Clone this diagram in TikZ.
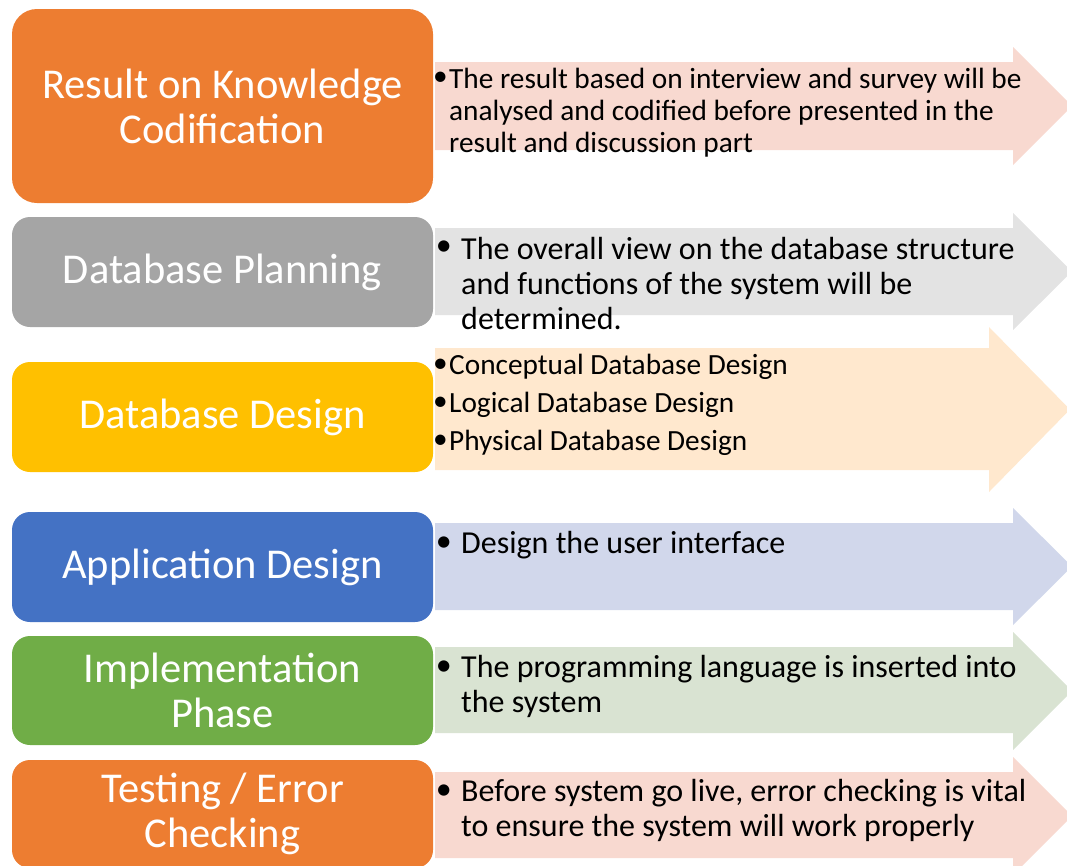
\documentclass[tikz,border=0pt]{standalone}
\usepackage{fontspec}
\setmainfont{Carlito}
\usetikzlibrary{positioning}
\definecolor{accOrange}{HTML}{ED7D31}
\definecolor{accGray}{HTML}{A5A5A5}
\definecolor{accGold}{HTML}{FFC000}
\definecolor{accBlue}{HTML}{4472C4}
\definecolor{accGreen}{HTML}{70AD47}
\definecolor{tintOrange}{HTML}{F8D9D0}
\definecolor{tintGray}{HTML}{E3E3E3}
\definecolor{tintGold}{HTML}{FFE8CE}
\definecolor{tintBlue}{HTML}{D1D7EB}
\definecolor{tintGreen}{HTML}{D9E3D2}
\begin{document}
\begin{tikzpicture}[x=1pt,y=-1pt,
    phase/.style={rectangle,rounded corners=18pt,minimum width=421pt,inner sep=0pt,
      text=white,align=center,font=\fontsize{42.5}{45}\selectfont},
    dot/.style={anchor=east,inner sep=0pt,font=\fontsize{32}{35}\selectfont},
    note/.style={anchor=west,inner sep=0pt,align=left,font=\fontsize{32}{35}\selectfont},
    small/.style={font=\fontsize{29.3}{32}\selectfont}]
  \useasboundingbox (0,0) rectangle (1067,865);
  \clip (0,0) rectangle (1067,865);
  % arrows behind the phases
  \fill[tintOrange] (435,62)--(1013,62)--(1013,47)--(1072,106)--(1013,165)--(1013,150)--(435,150)--cycle;
  \fill[tintGray] (435,228)--(1013,228)--(1013,213)--(1072,271.5)--(1013,330)--(1013,315)--(435,315)--cycle;
  \fill[tintGold] (435,348)--(989,348)--(989,327)--(1070,409.5)--(989,492)--(989,470)--(435,470)--cycle;
  \fill[tintBlue] (435,523)--(1013,523)--(1013,508)--(1072,566.5)--(1013,625)--(1013,610)--(435,610)--cycle;
  \fill[tintGreen] (435,647)--(1013,647)--(1013,632)--(1072,691)--(1013,750)--(1013,733)--(435,733)--cycle;
  \fill[tintOrange] (435,772)--(1013,772)--(1013,757)--(1072,816)--(1013,875)--(1013,858)--(435,858)--cycle;
  % phases
  \node[phase,fill=accOrange,rounded corners=25pt,minimum height=194pt] (codif) at (222.5,106) {Result on Knowledge\\Codification};
  \node[phase,fill=accGray,minimum height=110pt] (plan) at (222.5,272) {Database Planning};
  \node[phase,fill=accGold,minimum height=110pt] (dbdes) at (222.5,417) {Database Design};
  \node[phase,fill=accBlue,minimum height=110pt] (appdes) at (222.5,567) {Application Design};
  \node[phase,fill=accGreen,minimum height=109pt] (impl) at (222.5,690.5) {Implementation\\Phase};
  \node[phase,fill=accOrange,minimum height=108pt] (test) at (222.5,814) {Testing / Error\\Checking};
  % notes
  \node[dot,small] (d1) at (448,79) {\textbullet};
  \node[note,small] (n1) at (449,113) {The result based on interview and survey will be\\analysed and codified before presented in the\\result and discussion part};
  \node[dot] (d2) at (452,248) {\textbullet};
  \node[note] (n2) at (461,284) {The overall view on the database structure\\and functions of the system will be\\determined.};
  \node[dot,small] (d3a) at (448,366) {\textbullet};
  \node[note,small] (n3a) at (449,367) {Conceptual Database Design};
  \node[dot,small] (d3b) at (448,404) {\textbullet};
  \node[note,small] (n3b) at (449,405) {Logical Database Design};
  \node[dot,small] (d3c) at (448,442) {\textbullet};
  \node[note,small] (n3c) at (449,443) {Physical Database Design};
  \node[dot] (d4) at (452,544) {\textbullet};
  \node[note] (n4) at (461,545) {Design the user interface};
  \node[dot] (d5) at (452,668) {\textbullet};
  \node[note] (n5) at (461,686) {The programming language is inserted into\\the system};
  \node[dot] (d6) at (452,792) {\textbullet};
  \node[note] (n6) at (461,810) {Before system go live, error checking is vital\\to ensure the system will work properly};
\end{tikzpicture}
\end{document}
